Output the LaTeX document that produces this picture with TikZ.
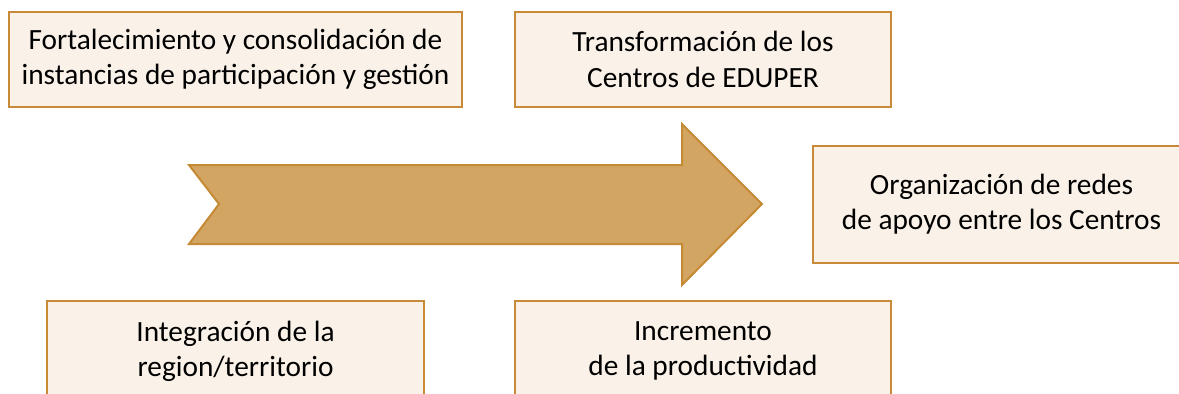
\documentclass[tikz,border=0pt]{standalone}
\usepackage{fontspec}
\setmainfont{Carlito}
\definecolor{boxfill}{HTML}{FAF2E8}
\definecolor{boxline}{HTML}{C98A38}
\definecolor{arrowfill}{HTML}{D3A563}
\definecolor{arrowline}{HTML}{C48A34}
\tikzset{
  goalbox/.style={draw=boxline, fill=boxfill, line width=1.5pt, align=center,
    inner sep=0pt, font=\fontsize{22}{26.5}\selectfont},
}
\begin{document}
\begin{tikzpicture}[x=0.75pt, y=-0.75pt]
\clip (0,0) rectangle (1179,393);
% main arrow
\draw[arrowline, fill=arrowfill, line width=1.5pt, line join=miter]
  (189,165) -- (682,165) -- (682,124) -- (762,204) -- (682,285)
  -- (682,244) -- (189,244) -- (219,204) -- cycle;
% boxes
\node[goalbox, minimum width=339.75pt, minimum height=71.25pt] (fort) at (235.5,59.5)
  {Fortalecimiento y consolidación de\\instancias de participación y gestión};
\node[goalbox, minimum width=282pt, minimum height=71.25pt] (trans) at (703,59.5)
  {Transformación de los\\Centros de EDUPER};
\node[goalbox, minimum width=282.75pt, minimum height=87.75pt] (redes) at (1001.5,204.5)
  {Organización de redes\\de apoyo entre los Centros};
\node[goalbox, minimum width=282.75pt, minimum height=75pt] (integ) at (235.5,351)
  {Integración de la\\region/territorio};
\node[goalbox, minimum width=282pt, minimum height=75pt] (incr) at (703,351)
  {Incremento\\de la productividad};
\end{tikzpicture}
\end{document}
